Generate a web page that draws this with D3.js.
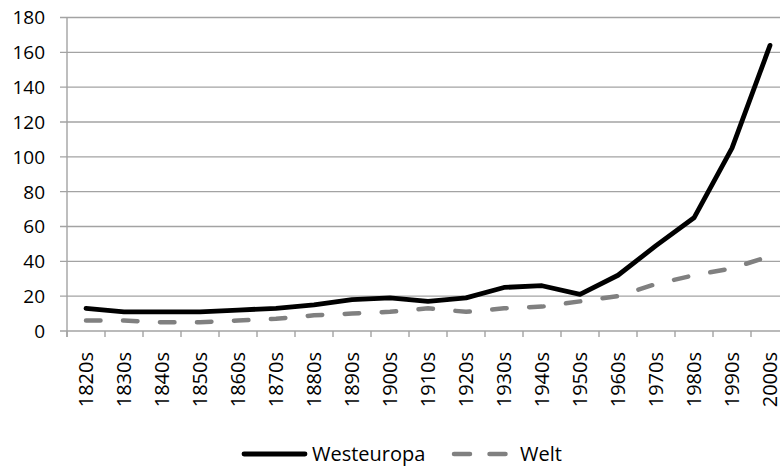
<!DOCTYPE html>
<html>
<head>
<meta charset="utf-8">
<script src="https://cdn.jsdelivr.net/npm/d3@7"></script>
<style>
  html, body { margin: 0; padding: 0; background: #fff; }
  svg { display: block; font-family: "Open Sans", "Noto Sans", sans-serif; }
</style>
</head>
<body>
<svg id="chart" width="780" height="468"></svg>
<script>
// Decades on the category axis
const decades = ["1820s","1830s","1840s","1850s","1860s","1870s","1880s","1890s","1900s","1910s",
                 "1920s","1930s","1940s","1950s","1960s","1970s","1980s","1990s","2000s"];
// Series values per decade
const westeuropa = [13, 11, 11, 11, 12, 13, 15, 18, 19, 17, 19, 25, 26, 21, 32, 49, 65, 105, 164];
const welt       = [6, 6, 5, 5, 6, 7, 9, 10, 11, 13, 11, 13, 14, 17, 20, 27, 32, 36, 43];
// Value axis ticks
const yTicks = [0, 20, 40, 60, 80, 100, 120, 140, 160, 180];

const svg = d3.select("#chart");
const plotLeft = 67, plotRight = 789, plotTop = 17.5, plotBottom = 331;

const x = d3.scaleBand().domain(decades).range([plotLeft, plotRight]);
const y = d3.scaleLinear().domain([0, 180]).range([plotBottom, plotTop]);

const gridColor = "#a3a3a3";

// Horizontal gridlines with short outer ticks
svg.append("g").selectAll("line").data(yTicks).join("line")
  .attr("x1", plotLeft - 7).attr("x2", 780)
  .attr("y1", d => y(d)).attr("y2", d => y(d))
  .attr("stroke", gridColor).attr("stroke-width", 1.4);

// Value axis labels
svg.append("g").selectAll("text").data(yTicks).join("text")
  .attr("x", 45).attr("y", d => y(d))
  .attr("dy", "0.36em")
  .attr("text-anchor", "end")
  .attr("font-size", 19)
  .attr("fill", "#000")
  .text(d => d);

// Vertical axis line
svg.append("line")
  .attr("x1", plotLeft).attr("x2", plotLeft)
  .attr("y1", plotTop).attr("y2", plotBottom + 6)
  .attr("stroke", gridColor).attr("stroke-width", 1.4);

// Category boundary ticks
const boundaries = decades.map(d => x(d)).concat([x(decades[decades.length - 1]) + x.bandwidth()]);
svg.append("g").selectAll("line").data(boundaries).join("line")
  .attr("x1", d => d).attr("x2", d => d)
  .attr("y1", plotBottom).attr("y2", plotBottom + 6)
  .attr("stroke", gridColor).attr("stroke-width", 1.4);

// Rotated category labels
svg.append("g").selectAll("text").data(decades).join("text")
  .attr("transform", d => `translate(${x(d) + x.bandwidth() / 2},352) rotate(-90)`)
  .attr("text-anchor", "end")
  .attr("dy", "0.36em")
  .attr("font-size", 20)
  .attr("fill", "#000")
  .text(d => d);

const line = d3.line()
  .x((d, i) => x(decades[i]) + x.bandwidth() / 2)
  .y(d => y(d));

// Welt (dashed grey)
svg.append("path")
  .datum(welt)
  .attr("d", line)
  .attr("fill", "none")
  .attr("stroke", "#808080")
  .attr("stroke-width", 4.5)
  .attr("stroke-dasharray", "14.5,22.5")
  .attr("stroke-linecap", "round");

// Westeuropa (solid black)
svg.append("path")
  .datum(westeuropa)
  .attr("d", line)
  .attr("fill", "none")
  .attr("stroke", "#000")
  .attr("stroke-width", 4.8)
  .attr("stroke-linejoin", "round")
  .attr("stroke-linecap", "round");

// Legend
const legendY = 454;
const lg = svg.append("g");
lg.append("line")
  .attr("x1", 244).attr("x2", 305)
  .attr("y1", legendY).attr("y2", legendY)
  .attr("stroke", "#000").attr("stroke-width", 4.8).attr("stroke-linecap", "round");
lg.append("text")
  .attr("x", 312).attr("y", legendY).attr("dy", "0.36em")
  .attr("font-size", 20).attr("fill", "#000")
  .text("Westeuropa");
lg.append("line")
  .attr("x1", 454).attr("x2", 506)
  .attr("y1", legendY).attr("y2", legendY)
  .attr("stroke", "#808080").attr("stroke-width", 4.5)
  .attr("stroke-dasharray", "16,19.5").attr("stroke-linecap", "round");
lg.append("text")
  .attr("x", 520).attr("y", legendY).attr("dy", "0.36em")
  .attr("font-size", 20).attr("fill", "#000")
  .text("Welt");
</script>
</body>
</html>
